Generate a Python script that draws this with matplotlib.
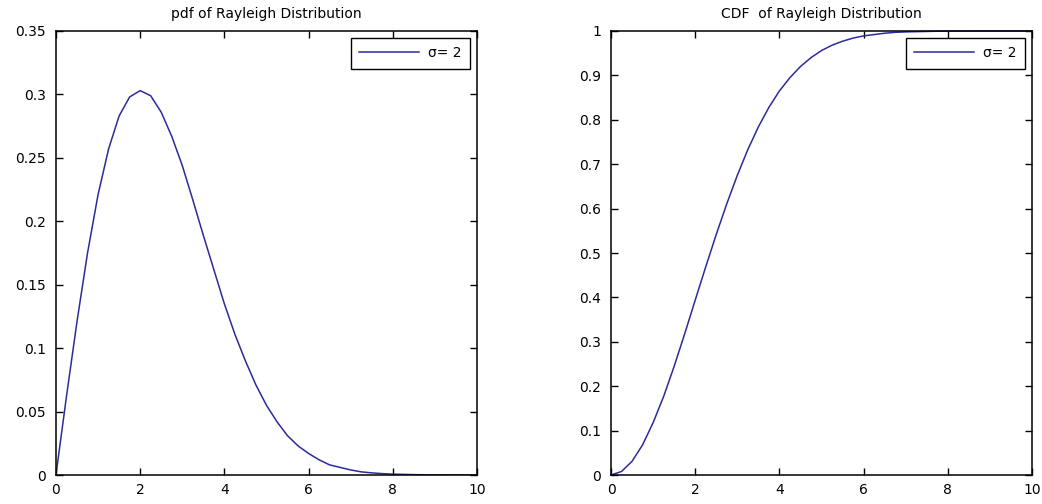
import matplotlib
matplotlib.use("Agg")
import matplotlib.pyplot as plt
import numpy as np

# sample points along x, sigma = 2
x = [0, 0.25, 0.5, 0.75, 1.0, 1.25, 1.5, 1.75, 2.0, 2.25, 2.5, 2.75, 3.0,
     3.25, 3.5, 3.75, 4.0, 4.25, 4.5, 4.75, 5.0, 5.25, 5.5, 5.75, 6.0,
     6.25, 6.5, 6.75, 7.0, 7.25, 7.5, 7.75, 8.0, 8.5, 9.0, 9.5, 10.0]

pdf_vals = [0.0, 0.062, 0.121, 0.175, 0.221, 0.257, 0.283, 0.298, 0.303,
            0.299, 0.286, 0.267, 0.244, 0.217, 0.189, 0.162, 0.135, 0.111,
            0.090, 0.071, 0.055, 0.042, 0.031, 0.023, 0.017, 0.012, 0.008,
            0.006, 0.004, 0.0025, 0.0017, 0.0011, 0.0007, 0.0003, 0.0001,
            0.0, 0.0]

cdf_vals = [0.0, 0.008, 0.031, 0.068, 0.118, 0.177, 0.245, 0.318, 0.394,
            0.469, 0.542, 0.611, 0.675, 0.733, 0.784, 0.828, 0.865, 0.895,
            0.920, 0.940, 0.956, 0.968, 0.977, 0.984, 0.989, 0.992, 0.995,
            0.997, 0.998, 0.9985, 0.999, 0.9995, 0.9997, 0.9999, 1.0, 1.0,
            1.0]

pdf_ticks = [0, 0.05, 0.1, 0.15, 0.2, 0.25, 0.3, 0.35]
pdf_ticklabels = ["0", "0.05", "0.1", "0.15", "0.2", "0.25", "0.3", "0.35"]
cdf_ticks = [0, 0.1, 0.2, 0.3, 0.4, 0.5, 0.6, 0.7, 0.8, 0.9, 1.0]
cdf_ticklabels = ["0", "0.1", "0.2", "0.3", "0.4", "0.5", "0.6", "0.7",
                  "0.8", "0.9", "1"]
x_ticks = [0, 2, 4, 6, 8, 10]

plt.rcParams['font.family'] = ['DejaVu Sans']
line_color = '#2b2b9c'

fig = plt.figure(figsize=(10.42, 5.04), dpi=100)
ax1 = fig.add_axes([0.0537, 0.0575, 0.404, 0.881])
ax2 = fig.add_axes([0.5864, 0.0575, 0.404, 0.881])


def style_axes(ax, yticks, yticklabels, ymax, title):
    ax.set_xlim(0, 10)
    ax.set_ylim(0, ymax)
    ax.set_xticks(x_ticks)
    ax.set_xticklabels([str(t) for t in x_ticks])
    ax.set_yticks(yticks)
    ax.set_yticklabels(yticklabels)
    ax.tick_params(direction='in', length=5, width=1, top=True, right=True,
                   labelsize=10, colors='black')
    ax.tick_params(axis='y', pad=7)
    ax.tick_params(axis='x', pad=6)
    for s in ax.spines.values():
        s.set_linewidth(1.1)
        s.set_color('black')
    ax.set_title(title, fontsize=10, pad=9)
    leg = ax.legend(loc='upper right', fancybox=False, framealpha=1,
                    edgecolor='black', fontsize=10, handlelength=4.3,
                    borderpad=0.6, borderaxespad=0.5, handletextpad=0.65)
    leg.get_frame().set_linewidth(1.0)


ax1.plot(x, pdf_vals, color=line_color, lw=1.1, label='σ= 2')
style_axes(ax1, pdf_ticks, pdf_ticklabels, 0.35, 'pdf of Rayleigh Distribution')

ax2.plot(x, cdf_vals, color=line_color, lw=1.1, label='σ= 2', clip_on=False)
style_axes(ax2, cdf_ticks, cdf_ticklabels, 1.0, 'CDF  of Rayleigh Distribution')

fig.savefig('out.png', dpi=100)
